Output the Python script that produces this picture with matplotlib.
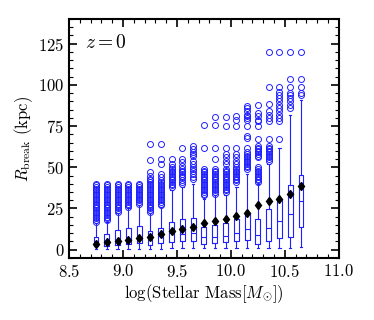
import numpy as np
import matplotlib
matplotlib.use('Agg')
import matplotlib.pyplot as plt
from matplotlib.ticker import MultipleLocator

plt.rcParams['font.family'] = 'serif'
plt.rcParams['font.serif'] = ['cmr10']
plt.rcParams['mathtext.fontset'] = 'cm'
plt.rcParams['axes.unicode_minus'] = False
plt.rcParams['axes.formatter.use_mathtext'] = True

# ---- data (R_break in kpc per stellar mass bin) ----
positions = [8.75, 8.85, 8.95, 9.05, 9.15, 9.25, 9.35, 9.45, 9.55, 9.65,
             9.75, 9.85, 9.95, 10.05, 10.15, 10.25, 10.35, 10.45, 10.55, 10.65]
q1 = [2.0, 2.4, 3.0, 3.4, 4.0, 3.0, 4.0, 4.5, 5.0, 5.4,
      3.6, 4.0, 4.4, 5.4, 6.0, 3.6, 5.4, 7.0, 8.0, 13.6]
medians = [3.4, 4.0, 5.0, 5.8, 6.6, 6.6, 8.2, 10.0, 9.6, 10.0,
           7.4, 8.0, 8.6, 10.4, 12.4, 9.0, 13.4, 17.4, 21.4, 29.4]
q3 = [8.0, 9.6, 12.0, 13.2, 14.4, 11.4, 13.0, 16.6, 18.6, 19.2,
      14.0, 15.0, 16.2, 18.6, 22.2, 18.4, 24.4, 30.5, 39.0, 45.5]
means = [3.6, 4.4, 5.0, 6.0, 6.8, 7.4, 9.6, 11.4, 12.6, 13.6,
         16.4, 17.4, 18.4, 20.4, 22.4, 27.0, 29.4, 31.0, 33.7, 38.5]
whislo = [0.4, 0.5, 0.6, 0.6, 0.6, 0.5, 0.6, 0.8, 0.8, 0.8,
          0.8, 0.8, 0.8, 0.8, 0.8, 0.8, 0.8, 0.8, 0.8, 1.8]
whishi = [16, 17, 22, 25, 27, 22, 26, 36, 38, 40,
          31, 33, 33, 38, 46, 40, 52, 62, 82, 91]
fliers = [
    [17, 18, 19, 20, 21, 22, 23, 24, 25, 26, 27, 28, 29, 30, 31, 32, 33, 34, 35, 36, 37, 38, 39, 40],
    [18, 19, 20, 21, 22, 23, 24, 25, 26, 27, 28, 29, 30, 31, 32, 33, 34, 35, 36, 37, 38, 39, 40],
    [23, 24, 25, 26, 27, 28, 29, 30, 31, 32, 33, 34, 35, 36, 37, 38, 39, 40],
    [26, 27, 28, 29, 30, 31, 32, 33, 34, 35, 36, 37, 38, 39, 40],
    [28, 29, 30, 31, 32, 33, 34, 35, 36, 37, 38, 39, 40],
    [23, 24, 25, 26, 27, 28, 29, 30, 31, 32, 33, 34, 35, 36, 37, 38, 39, 40, 41, 42, 43, 45, 47, 54.5, 64],
    [27, 28, 29, 30, 31, 32, 33, 34, 35, 36, 37, 38, 39, 40, 41, 42, 44, 46, 52, 55, 64],
    [38, 39, 40, 41, 42, 43, 44, 45, 46, 47, 48, 49, 50, 52, 55],
    [40, 41, 42, 44, 45, 46, 47, 48, 49, 51, 53, 55, 62],
    [43, 44, 46, 48, 49, 50, 52, 54, 57, 58, 59, 61, 63],
    [33, 34, 35, 36, 37, 38, 39, 40, 41, 42, 43, 44, 45, 46, 47, 48, 49, 62, 75.7],
    [34, 35, 36, 37, 38, 39, 40, 41, 42, 43, 44, 45, 46, 47, 48, 49, 55, 62, 75.7, 80.7],
    [35, 36, 37, 38, 39, 40, 41, 42, 43, 44, 45, 46, 47, 48, 49, 52, 54, 56, 58, 62, 75, 80.7],
    [41, 42, 43, 44, 45, 46, 47, 48, 49, 50, 52, 54, 56, 58, 62, 75, 79, 81],
    [49, 50, 51, 52, 53, 54, 55, 56, 57, 58, 59, 62, 68, 69, 75, 79, 80, 81, 82, 84, 86, 87],
    [41, 42, 43, 44, 45, 46, 47, 48, 49, 50, 56, 57, 58, 59, 60, 61, 62, 63, 67, 75, 78, 79, 81, 83, 88],
    [54, 55, 56, 57, 58, 59, 60, 61, 62, 63, 67, 78, 80, 82, 84, 88.5, 99, 120],
    [67, 78, 80, 82, 84, 86, 88, 90, 92, 94, 96, 99, 120],
    [86, 88, 90, 92, 94, 95, 99, 103.8, 120],
    [93.7, 95, 99, 103.8, 120],
]

stats = []
for i in range(len(positions)):
    stats.append(dict(med=medians[i], q1=q1[i], q3=q3[i], whislo=whislo[i],
                      whishi=whishi[i], fliers=fliers[i], mean=means[i]))

fig = plt.figure(figsize=(3.74, 3.2), dpi=100, facecolor='white')
ax = fig.add_axes([0.1845, 0.194, 0.7215, 0.7466])

bc = '#2020ff'
ax.bxp(stats, positions=positions, widths=0.045, showmeans=True, manage_ticks=False,
       boxprops=dict(color=bc, linewidth=0.8),
       whiskerprops=dict(color=bc, linewidth=0.8),
       capprops=dict(color=bc, linewidth=0.8),
       medianprops=dict(color=bc, linewidth=0.8),
       flierprops=dict(marker='o', markerfacecolor='none', markeredgecolor=bc,
                       markersize=4.3, markeredgewidth=0.7),
       meanprops=dict(marker='d', markerfacecolor='k', markeredgecolor='k', markersize=4.5))

ax.set_xlim(8.5, 11.0)
ax.set_ylim(-5, 140)
ax.xaxis.set_major_locator(MultipleLocator(0.5))
ax.xaxis.set_minor_locator(MultipleLocator(0.1))
ax.yaxis.set_major_locator(MultipleLocator(25))
ax.yaxis.set_minor_locator(MultipleLocator(5))
ax.tick_params(which='both', direction='in', top=True, right=True, labelsize=12)
ax.tick_params(which='major', length=6, width=1.2)
ax.tick_params(which='minor', length=3, width=0.8)
for s in ax.spines.values():
    s.set_linewidth(1.5)

ax.set_xlabel(r'log(Stellar Mass$[M_{\odot}]$)', fontsize=12, labelpad=2)
ax.set_ylabel(r'$R_{\rm break}$ (kpc)', fontsize=12, labelpad=2)
ax.text(0.06, 0.90, r'$z = 0$', transform=ax.transAxes, fontsize=14, va='center')

plt.savefig('out.png', dpi=100, facecolor='white')
